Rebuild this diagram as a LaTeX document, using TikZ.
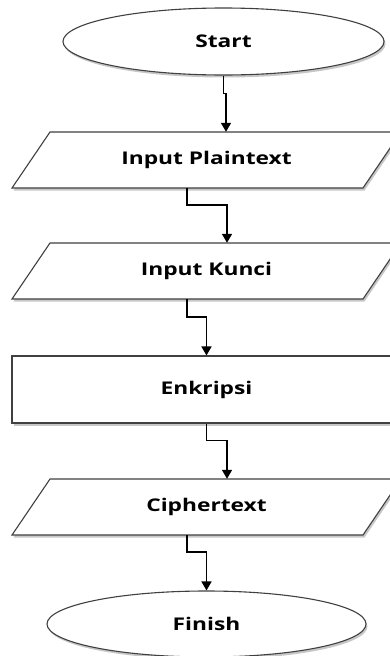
\documentclass[tikz,border=0pt]{standalone}
\usepackage{fontspec}
\newfontfamily\lblfont[FakeStretch=1.3]{Open Sans}
\usetikzlibrary{shapes.geometric,arrows.meta,shadows}
\begin{document}
\begin{tikzpicture}[x=1pt,y=-1pt,
  shapeline/.style={draw=black!75, line width=1.1pt, fill=white,
    drop shadow={shadow xshift=1.5pt, shadow yshift=-2.5pt, fill=black!22, opacity=1}},
  lbl/.style={font=\lblfont\bfseries\fontsize{17.5}{21}\selectfont, text=black},
  conn/.style={draw=black, line width=1.6pt, -{Triangle[width=10pt,length=9pt]}},
  term/.style={shapeline, ellipse, inner sep=0pt, lbl},
  ghost/.style={rectangle, inner sep=0pt, lbl}
]
\useasboundingbox (0,0) rectangle (390,656);
\clip (0,0) rectangle (390,656);

% Start
\node[term, minimum width=321pt, minimum height=67pt] (start) at (223.5,41.5) {Start};

% Input Plaintext
\draw[shapeline] (12,188) -- (363,188) -- (401,132) -- (50,132) -- cycle;
\node[ghost, minimum width=351pt, minimum height=56pt] (p1) at (206.5,160) {Input Plaintext};

% Input Kunci
\draw[shapeline] (12,299) -- (363,299) -- (401,243) -- (50,243) -- cycle;
\node[ghost, minimum width=351pt, minimum height=56pt] (p2) at (206.5,271) {Input Kunci};

% Enkripsi
\node[shapeline, rectangle, lbl, minimum width=389pt, minimum height=67pt, inner sep=0pt] (enk) at (206.5,389.5) {Enkripsi};

% Ciphertext
\draw[shapeline] (12,535) -- (363,535) -- (401,479) -- (50,479) -- cycle;
\node[ghost, minimum width=351pt, minimum height=56pt] (p3) at (206.5,507) {Ciphertext};

% Finish
\node[term, minimum width=319pt, minimum height=66pt] (finish) at (206.5,624) {Finish};

% connectors
\draw[conn] (start.south) -- ++(0,18) -| ([xshift=19.5pt]p1.north);
\draw[conn] ([xshift=-19.5pt]p1.south) -- ++(0,17) -| ([xshift=20.5pt]p2.north);
\draw[conn] ([xshift=-19.5pt]p2.south) -- ++(0,18) -| (enk.north);
\draw[conn] (enk.south) -- ++(0,17) -| ([xshift=20.5pt]p3.north);
\draw[conn] ([xshift=-19.5pt]p3.south) -- ++(0,17) -| (finish.north);
\end{tikzpicture}
\end{document}
